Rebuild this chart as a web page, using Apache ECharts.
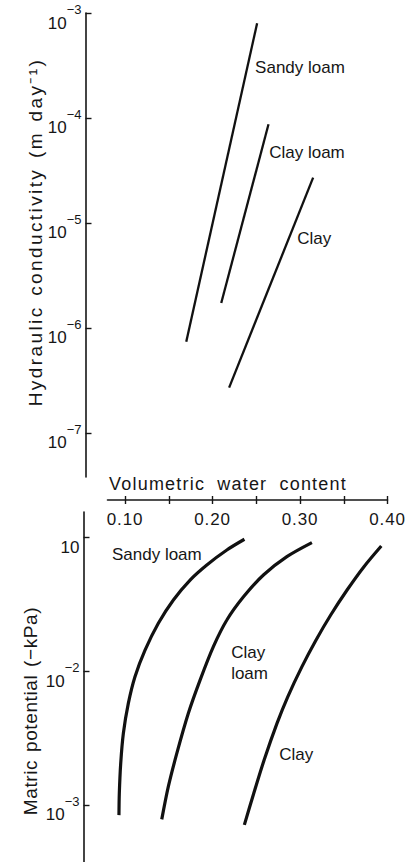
<!DOCTYPE html>
<html>
<head>
<meta charset="utf-8">
<script src="https://cdn.jsdelivr.net/npm/echarts@6/dist/echarts.min.js"></script>
<style>
  html, body { margin: 0; padding: 0; background: #fff; }
  #chart { width: 408px; height: 862px; }
</style>
</head>
<body>
<div id="chart"></div>
<script>
// Shared volumetric water content axis
const waterContentTicks = [0.10, 0.15, 0.20, 0.25, 0.30, 0.35, 0.40];
const waterContentLabels = [0.10, 0.20, 0.30, 0.40];

// Hydraulic conductivity (m day^-1) against water content
const conductivityTicks = [1e-7, 1e-6, 1e-5, 1e-4, 1e-3];
const conductivityTickLabels = ['10⁻⁷', '10⁻⁶', '10⁻⁵', '10⁻⁴', '10⁻³'];
const conductivitySandyLoam = [[0.170, 7.4e-7], [0.251, 8.0e-4]];
const conductivityClayLoam = [[0.210, 1.73e-6], [0.264, 8.7e-5]];
const conductivityClay = [[0.219, 2.7e-7], [0.315, 2.7e-5]];

// Matric potential (-kPa) against water content
const potentialTicks = [1e-3, 1e-2, 1e-1];
const potentialTickLabels = ['10⁻³', '10⁻²', '10'];
const potentialSandyLoam = [
  [0.0931, 0.00084], [0.0935, 0.00122], [0.0951, 0.00205], [0.0981, 0.00343],
  [0.1038, 0.00576], [0.1114, 0.00912], [0.1229, 0.0144], [0.1381, 0.0229],
  [0.1553, 0.0342], [0.1744, 0.0482], [0.1935, 0.0625], [0.2164, 0.0809],
  [0.2365, 0.0973]
];
const potentialClayLoam = [
  [0.1420, 0.00078], [0.1495, 0.00137], [0.1592, 0.00243], [0.1724, 0.00485],
  [0.1858, 0.00859], [0.2010, 0.0153], [0.2164, 0.0242], [0.2354, 0.0361],
  [0.2582, 0.0526], [0.2850, 0.0721], [0.3136, 0.0918]
];
const potentialClay = [
  [0.2364, 0.00071], [0.2471, 0.00122], [0.2590, 0.00217], [0.2737, 0.00408],
  [0.2860, 0.00645], [0.3021, 0.0108], [0.3182, 0.0171], [0.3351, 0.0264],
  [0.3538, 0.0406], [0.3731, 0.0607], [0.3929, 0.0867]
];

const FONT = '"Liberation Sans", Arial, Helvetica, sans-serif';
const INK = '#161616';

// "10" with a raised exponent, as separate rich-text pieces
function powerLabel(text) {
  const m = text.match(/^10([⁻⁰¹²³⁴⁵⁶⁷⁸⁹]*)$/);
  const supMap = { '⁻': '−', '⁰': '0', '¹': '1', '²': '2', '³': '3', '⁴': '4', '⁵': '5', '⁶': '6', '⁷': '7', '⁸': '8', '⁹': '9' };
  const exp = m ? m[1].split('').map(c => supMap[c]).join('') : '';
  return exp ? '{b|10}{s|' + exp + '}' : '{b|10}';
}

function tickLabelFor(ticks, labels) {
  return function (v) {
    let best = 0;
    ticks.forEach((t, i) => {
      if (Math.abs(Math.log10(v) - Math.log10(t)) < Math.abs(Math.log10(v) - Math.log10(ticks[best]))) best = i;
    });
    return powerLabel(labels[best]);
  };
}

const yLabelRich = {
  b: { fontSize: 17, lineHeight: 40, color: INK, fontFamily: FONT },
  s: { fontSize: 13, lineHeight: 13, verticalAlign: 'top', color: INK, fontFamily: FONT }
};

function logAxis(gridIndex, min, max, ticks, labels, name, offset, namePadding, nameGap) {
  return {
    type: 'log',
    logBase: 10,
    gridIndex,
    min, max,
    offset,
    axisLine: { show: true, lineStyle: { color: INK, width: 1.6 } },
    axisTick: { show: true, inside: true, length: 6, customValues: ticks, lineStyle: { color: INK, width: 1.4 } },
    axisLabel: {
      show: true, customValues: ticks, margin: 4,
      formatter: tickLabelFor(ticks, labels),
      rich: yLabelRich, padding: [20, 0, 0, 0]
    },
    splitLine: { show: false },
    minorTick: { show: false },
    name,
    nameLocation: 'middle',
    nameGap,
    nameMoveOverlap: false,
    nameTextStyle: { fontSize: 19, color: INK, fontFamily: FONT, padding: namePadding }
  };
}

// Straight / curved line plus a text tag written next to it
function soilLine(name, data, axisIndex, width, smooth, labelText, labelAt) {
  return {
    type: 'line',
    name,
    xAxisIndex: axisIndex,
    yAxisIndex: axisIndex,
    data,
    smooth,
    showSymbol: false,
    symbol: 'none',
    silent: true,
    lineStyle: { color: '#111', width },
    markPoint: {
      symbol: 'circle',
      symbolSize: 0,
      silent: true,
      label: {
        show: true, position: 'right', distance: 0,
        formatter: labelText, color: INK, fontSize: 17, lineHeight: 21,
        fontFamily: FONT, align: 'left'
      },
      data: [{ coord: labelAt }]
    }
  };
}

const chart = echarts.init(document.getElementById('chart'), null, { renderer: 'svg' });

const xBase = { type: 'value', min: 0.08, max: 0.40, splitLine: { show: false } };

chart.setOption({
  animation: false,
  backgroundColor: '#ffffff',
  textStyle: { fontFamily: FONT },
  grid: [
    { left: 107.5, width: 280, top: 13, height: 464 },
    { left: 107.5, width: 280, top: 512, height: 350 }
  ],
  xAxis: [
    Object.assign({}, xBase, { gridIndex: 0, show: false }),
    Object.assign({}, xBase, {
      gridIndex: 1,
      position: 'top',
      offset: 12,
      axisLine: { show: true, onZero: false, lineStyle: { color: INK, width: 1.6 } },
      axisTick: { show: true, inside: true, length: 4, customValues: waterContentTicks, lineStyle: { color: INK, width: 1.4 } },
      axisLabel: {
        show: true, inside: true, margin: 11, customValues: waterContentLabels,
        formatter: v => v.toFixed(2), fontSize: 17, color: INK, fontFamily: FONT
      },
      name: 'Volumetric water content',
      nameLocation: 'middle',
      nameGap: 7,
      nameMoveOverlap: false,
      nameTextStyle: { fontSize: 18, color: INK, fontFamily: FONT, padding: [0, 39, 0, 0] }
    }),
    Object.assign({}, xBase, {
      gridIndex: 1,
      position: 'top',
      offset: 12,
      axisLine: { show: false, onZero: false },
      axisTick: { show: true, inside: false, length: 4, customValues: waterContentTicks, lineStyle: { color: INK, width: 1.4 } },
      axisLabel: { show: false }
    })
  ],
  yAxis: [
    logAxis(0, Math.pow(10, -7.42), 1e-3, conductivityTicks, conductivityTickLabels,
      'Hydraulic conductivity (m day⁻¹)', 22, [0, 0, 0, 26], 41),
    logAxis(1, Math.pow(10, -3.4265), Math.pow(10, -0.808), potentialTicks, potentialTickLabels,
      'Matric potential (−kPa)', 24, [0, 48, 0, 0], 44)
  ],
  series: [
    soilLine('Sandy loam', conductivitySandyLoam, 0, 2.3, false, 'Sandy loam', [0.2487, 3.04e-4]),
    soilLine('Clay loam', conductivityClayLoam, 0, 2.3, false, 'Clay loam', [0.2648, 4.71e-5]),
    soilLine('Clay', conductivityClay, 0, 2.3, false, 'Clay', [0.2968, 7.15e-6]),
    soilLine('Sandy loam', potentialSandyLoam, 1, 3.2, 0.3, 'Sandy loam', [0.0851, 0.0743]),
    soilLine('Clay loam', potentialClayLoam, 1, 3.2, 0.3, 'Clay\nloam', [0.2213, 0.01164]),
    soilLine('Clay', potentialClay, 1, 3.2, 0.3, 'Clay', [0.2762, 0.002366])
  ]
});

// Typeset spacing for the longer captions and the water-content numbers
const tracking = [
  { test: t => t.indexOf('Volumetric') === 0, letter: 1.2, word: 6 },
  { test: t => t.indexOf('Hydraulic') === 0, letter: 2.4, word: 2 },
  { test: t => t.indexOf('Matric') === 0, letter: 0.6, word: 2 },
  { test: t => /^0\.\d0$/.test(t), letter: 0.8, word: 0 }
];
function applyTracking() {
  chart.getDom().querySelectorAll('text').forEach(el => {
    const t = (el.textContent || '').trim();
    const rule = tracking.find(r => r.test(t));
    if (rule) {
      el.style.letterSpacing = rule.letter + 'px';
      el.style.wordSpacing = rule.word + 'px';
    }
  });
}
applyTracking();
chart.on('finished', applyTracking);
</script>
</body>
</html>
